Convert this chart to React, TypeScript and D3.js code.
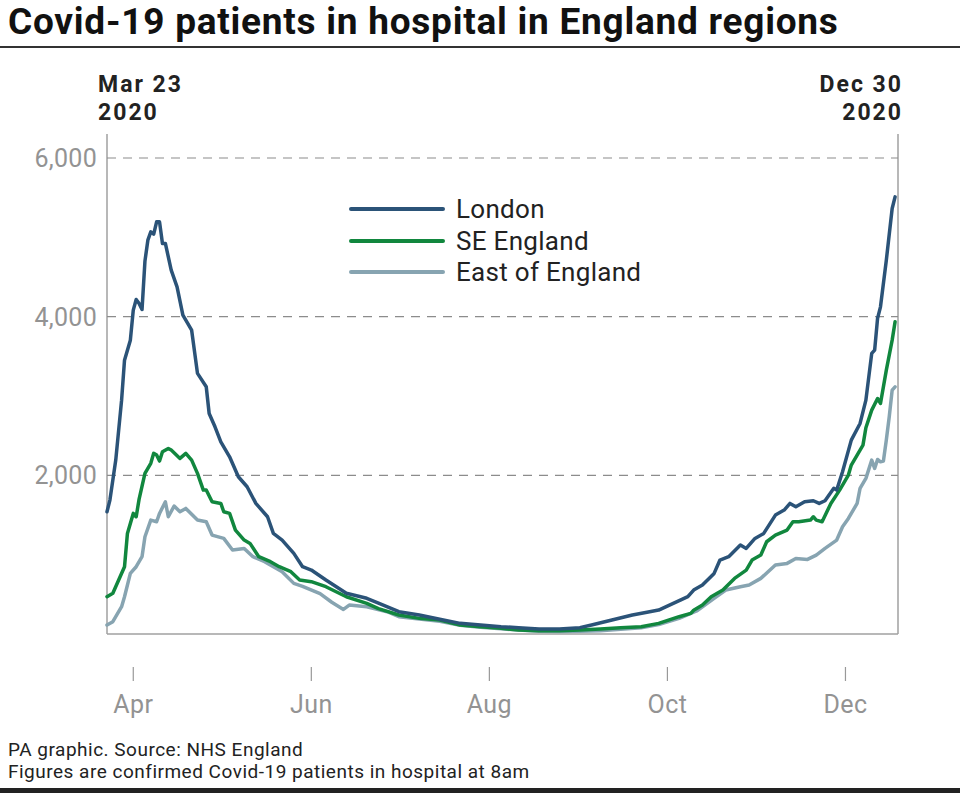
import React from "react";
import * as d3 from "d3";

// Data: [days after Mar 23 2020, patients in hospital]
const START_DATE = new Date(2020, 2, 23);
const END_DATE = new Date(2020, 11, 19);

const seriesNames = ["London", "SE England", "East of England"];
const seriesColors = ["#2b5378", "#11873e", "#87a4b1"];

const londonData: [number, number][] = [
  [0, 1541], [1, 1688], [3, 2192], [5, 2948], [6, 3452], [8, 3704], [9, 4082], [10, 4217],
  [11, 4167], [12, 4090], [13, 4700], [14, 4964], [15, 5069], [16, 5040], [17, 5195], [18, 5195],
  [19, 4923], [20, 4923], [22, 4586], [24, 4376], [26, 4019], [27, 3956], [29, 3830], [31, 3285],
  [34, 3116], [35, 2780], [37, 2612], [39, 2423], [42, 2234], [45, 1982], [48, 1856], [51, 1646],
  [55, 1478], [57, 1268], [60, 1184], [64, 1016], [67, 848], [70, 806], [75, 680], [82, 513],
  [89, 450], [93, 390], [100, 281], [107, 239], [114, 185], [121, 134], [128, 113], [135, 92],
  [141, 80], [148, 63], [155, 63], [162, 80], [166, 113], [173, 176], [180, 239], [185, 273],
  [189, 302], [194, 386], [199, 470], [201, 554], [204, 617], [208, 764], [210, 932], [213, 974],
  [217, 1121], [219, 1079], [222, 1205], [225, 1268], [229, 1499], [232, 1562], [234, 1646],
  [236, 1604], [239, 1667], [242, 1680], [244, 1646], [246, 1680], [249, 1836], [250, 1814],
  [252, 2045], [255, 2444], [258, 2654], [260, 2948], [262, 3537], [263, 3578], [264, 3978],
  [265, 4124], [267, 4712], [269, 5364], [270, 5510],
];

const seEnglandData: [number, number][] = [
  [0, 470], [2, 513], [4, 680], [6, 848], [7, 1268], [9, 1520], [10, 1478], [11, 1700],
  [13, 2025], [15, 2151], [16, 2277], [17, 2255], [18, 2180], [19, 2297], [21, 2339], [22, 2318],
  [25, 2213], [27, 2277], [29, 2192], [31, 2025], [33, 1814], [34, 1814], [36, 1667], [39, 1646],
  [40, 1541], [42, 1520], [44, 1310], [47, 1184], [49, 1142], [52, 974], [56, 911], [59, 848],
  [63, 785], [66, 680], [70, 659], [75, 596], [82, 470], [89, 386], [93, 320], [100, 239],
  [107, 197], [114, 176], [121, 113], [128, 92], [135, 71], [141, 50], [148, 42], [155, 42],
  [162, 50], [169, 63], [176, 80], [183, 92], [189, 134], [196, 218], [200, 260], [201, 300],
  [204, 365], [207, 470], [211, 554], [215, 701], [219, 806], [221, 932], [224, 995], [226, 1163],
  [229, 1247], [233, 1310], [235, 1415], [237, 1415], [241, 1436], [242, 1478], [243, 1436],
  [245, 1415], [248, 1646], [251, 1814], [254, 2003], [255, 2129], [258, 2318], [259, 2381],
  [260, 2600], [262, 2822], [264, 2969], [265, 2906], [267, 3326], [269, 3704], [270, 3935],
];

const eastData: [number, number][] = [
  [0, 113], [2, 155], [5, 344], [6, 470], [8, 764], [10, 848], [12, 974], [13, 1226],
  [15, 1436], [17, 1415], [18, 1520], [20, 1667], [21, 1478], [23, 1613], [25, 1541], [27, 1583],
  [31, 1436], [34, 1415], [36, 1247], [40, 1205], [43, 1058], [47, 1079], [50, 974], [54, 911],
  [57, 848], [60, 785], [64, 638], [67, 600], [73, 510], [77, 400], [81, 310], [83, 365],
  [89, 344], [96, 281], [100, 218], [107, 190], [114, 160], [121, 110], [128, 85], [135, 65],
  [141, 50], [148, 35], [155, 32], [162, 35], [169, 40], [176, 60], [183, 80], [189, 120],
  [196, 197], [202, 290], [208, 450], [212, 554], [217, 596], [220, 617], [224, 701], [229, 869],
  [233, 890], [236, 953], [240, 940], [243, 995], [246, 1079], [250, 1184], [252, 1352],
  [254, 1457], [257, 1646], [258, 1836], [260, 1962], [262, 2192], [263, 2087], [264, 2200],
  [265, 2171], [266, 2180], [267, 2444], [268, 2738], [269, 3074], [270, 3116],
];

const yTickValues = [2000, 4000, 6000];
const xTickDates = [
  new Date(2020, 3, 1),
  new Date(2020, 5, 1),
  new Date(2020, 7, 1),
  new Date(2020, 9, 1),
  new Date(2020, 11, 1),
];
const xTickLabels = ["Apr", "Jun", "Aug", "Oct", "Dec"];
const startLabel = ["Mar 23", "2020"];
const endLabel = ["Dec 30", "2020"];

const FONT = "Roboto, 'Liberation Sans', sans-serif";

export default function App() {
  const W = 960;
  const H = 793;
  const left = 107;
  const right = 898;
  const top = 158;
  const bottom = 634;

  const x = d3.scaleTime().domain([START_DATE, END_DATE]).range([left, right]);
  const y = d3.scaleLinear().domain([0, 6000]).range([bottom, top]);

  const line = d3
    .line<[number, number]>()
    .x((d) => x(d3.timeDay.offset(START_DATE, d[0])))
    .y((d) => y(d[1]))
    .curve(d3.curveLinear);

  const all = [londonData, seEnglandData, eastData];
  const drawOrder = [2, 1, 0];

  const legendY = [209, 241, 272];

  return (
    <svg
      width={W}
      height={H}
      style={{ position: "absolute", left: 0, top: 0, background: "#fff" }}
      fontFamily={FONT}
    >
      <rect x={0} y={0} width={W} height={H} fill="#fff" />
      <text x={8} y={34} fontSize={37} fontWeight={700} fill="#111" letterSpacing={0.75}>
        Covid-19 patients in hospital in England regions
      </text>
      <line x1={0} x2={W} y1={47} y2={47} stroke="#333" strokeWidth={2} />

      {startLabel.map((t, i) => (
        <text key={t} x={98} y={92 + i * 28} fontSize={23} fontWeight={700} fill="#222" letterSpacing={2}>
          {t}
        </text>
      ))}
      {endLabel.map((t, i) => (
        <text
          key={t}
          x={903}
          y={92 + i * 28}
          fontSize={23}
          fontWeight={700}
          fill="#222"
          textAnchor="end"
          letterSpacing={2}
        >
          {t}
        </text>
      ))}

      {/* frame */}
      <line x1={left} x2={left} y1={134} y2={bottom} stroke="#a0a0a0" strokeWidth={1.5} />
      <line x1={right} x2={right} y1={134} y2={bottom} stroke="#a0a0a0" strokeWidth={1.5} />
      <line x1={left} x2={right} y1={bottom} y2={bottom} stroke="#a0a0a0" strokeWidth={1.5} />

      {yTickValues.map((v) => (
        <g key={v}>
          <line
            x1={left}
            x2={right}
            y1={y(v)}
            y2={y(v)}
            stroke="#8c8c8c"
            strokeWidth={1.2}
            strokeDasharray="9,7"
          />
          <text
            x={97}
            y={y(v)}
            dy="0.36em"
            textAnchor="end"
            fontSize={25}
            fill="#939393"
            letterSpacing={0.3}
          >
            {d3.format(",")(v)}
          </text>
        </g>
      ))}

      {xTickDates.map((d, i) => (
        <g key={i}>
          <line x1={x(d)} x2={x(d)} y1={667} y2={681} stroke="#999" strokeWidth={1.2} />
          <text x={x(d)} y={713} textAnchor="middle" fontSize={25} fill="#939393" letterSpacing={0.4}>
            {xTickLabels[i]}
          </text>
        </g>
      ))}

      {drawOrder.map((i) => (
        <path
          key={i}
          d={line(all[i]) || ""}
          fill="none"
          stroke={seriesColors[i]}
          strokeWidth={3.5}
          strokeLinejoin="round"
          strokeLinecap="round"
        />
      ))}

      {seriesNames.map((n, i) => (
        <g key={n}>
          <line
            x1={351}
            x2={443}
            y1={legendY[i]}
            y2={legendY[i]}
            stroke={seriesColors[i]}
            strokeWidth={4}
            strokeLinecap="round"
          />
          <text x={456} y={legendY[i]} dy="0.36em" fontSize={26} fill="#222" letterSpacing={0.3}>
            {n}
          </text>
        </g>
      ))}

      <text x={8} y={756} fontSize={19} fill="#222" letterSpacing={0.5}>
        PA graphic. Source: NHS England
      </text>
      <text x={8} y={778} fontSize={19} fill="#222" letterSpacing={0.5}>
        Figures are confirmed Covid-19 patients in hospital at 8am
      </text>
      <rect x={0} y={788} width={W} height={5} fill="#222" />
    </svg>
  );
}
